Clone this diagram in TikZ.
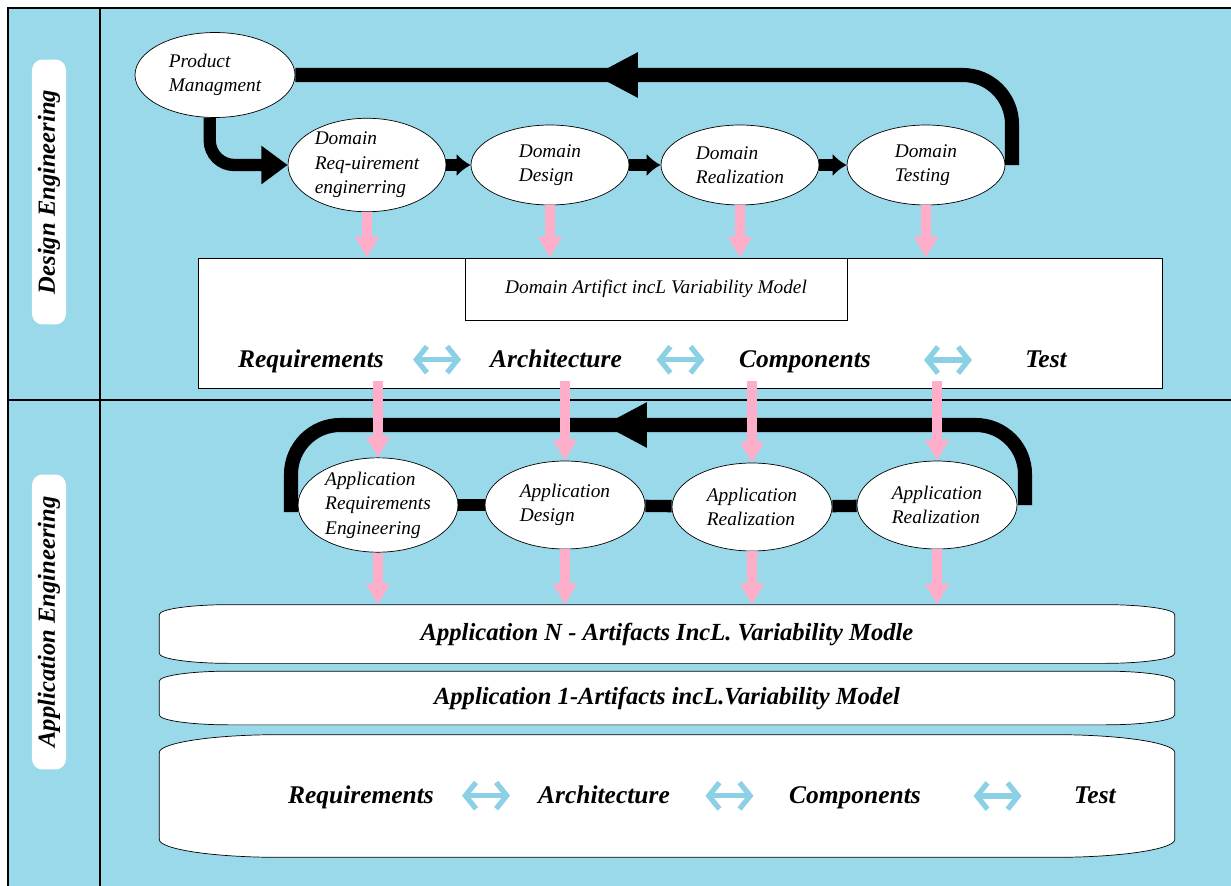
\documentclass[tikz,border=0pt]{standalone}
\usepackage{fontspec}
\setmainfont{Liberation Serif}
\usetikzlibrary{shapes.geometric,arrows.meta,decorations.markings,calc}

\definecolor{laneblue}{RGB}{153,217,234}
\definecolor{flowpink}{RGB}{255,174,201}
\definecolor{linkblue}{RGB}{140,208,230}

\tikzset{
  phase/.style={ellipse, draw, fill=white, inner sep=0pt, minimum width=3.16cm,
    minimum height=1.6cm, align=left, font=\itshape\fontsize{11}{14}\selectfont},
  lanelabel/.style={fill=white, rounded corners=6pt, rotate=90, minimum height=0.58cm,
    font=\bfseries\itshape\fontsize{14}{16}\selectfont},
  rowtext/.style={anchor=base, font=\bfseries\itshape\fontsize{14.5}{17}\selectfont},
  captext/.style={font=\bfseries\itshape\fontsize{14}{17}\selectfont},
  capnode/.style={inner sep=0pt, minimum width=20.3cm},
  pinkflow/.style={draw=flowpink, line width=5.5pt, -{Triangle[length=12pt,width=13pt]}},
  linkarr/.style={draw=linkblue, line width=3pt,
    {Straight Barb[length=6pt,width=15pt]}-{Straight Barb[length=6pt,width=15pt]}},
  stepflow/.style={line width=6.5pt, -{Latex[length=8pt,width=13pt]}},
  stepbar/.style={line width=7pt},
  fbloop/.style={line width=8pt, rounded corners=28pt, postaction={decorate},
    decoration={markings, mark=at position #1 with {\arrow{Triangle[length=25pt,width=24pt]}}}}
}

% capsule outline round a named node: node, corner x radius, corner y radius
\newcommand{\capsule}[3]{%
  \draw[fill=white] ($(#1.north west)+(0,#3)$) -- ($(#1.south west)+(0,-#3)$)
    arc[start angle=180, end angle=90, x radius=#2, y radius=#3]
    -- ($(#1.south east)+(-#2,0)$)
    arc[start angle=90, end angle=0, x radius=#2, y radius=#3]
    -- ($(#1.north east)+(0,#3)$)
    arc[start angle=0, end angle=-90, x radius=#2, y radius=#3]
    -- ($(#1.north west)+(#2,0)$)
    arc[start angle=-90, end angle=-180, x radius=#2, y radius=#3]
    -- cycle;
}

\begin{document}
\begin{tikzpicture}[x=0.02cm, y=-0.02cm]
\useasboundingbox (0,0) rectangle (1231,886);

% lanes
\fill[laneblue] (8,8) rectangle (1231,886);
\draw[line width=1pt] (8,886) -- (8,8) -- (1231,8);
\draw[line width=1pt] (100,8) -- (100,886);
\draw[line width=1pt] (8,400) -- (1231,400);

\node[lanelabel, minimum width=5.3cm] (lane1) at (49,192) {Design Engineering};
\node[lanelabel, minimum width=5.9cm] (lane2) at (49,622) {Application Engineering};

% domain engineering
\node[phase, minimum width=3.2cm, minimum height=1.7cm] (pm) at (215,75) {Product\\Managment};
\node[phase] (dreq) at (367,165) {Domain\\Req-uirement\\enginerring};
\node[phase] (ddes) at (550,165) {Domain\\Design};
\node[phase] (dreal) at (740,165) {Domain\\Realization};
\node[phase] (dtest) at (926,165) {Domain\\Testing};

\coordinate (dfb) at (1012,75);

\draw[stepflow] (dreq) -- (ddes);
\draw[stepflow] (ddes) -- (dreal);
\draw[stepflow] (dreal) -- (dtest);
\draw[line width=7pt, rounded corners=14pt, -{Triangle[length=15pt,width=21pt]}]
  ([xshift=-3pt]pm.south) |- (dreq.west);
\draw[fbloop=0.62] (dtest.east -| dfb) -- (dfb) -- (pm.east);

\node[draw, fill=white, minimum width=19.28cm, minimum height=2.6cm] (dbox) at (680,323) {};
\node[draw, fill=white, minimum width=7.64cm, minimum height=1.24cm,
  font=\itshape\fontsize{11}{13}\selectfont] (dart) at (656,289) {Domain Artifict incL Variability Model};

\node[rowtext] (rreq) at (311,367) {Requirements};
\node[rowtext] (rarch) at (556,367) {Architecture};
\node[rowtext] (rcomp) at (805,367) {Components};
\node[rowtext] (rtest) at (1046,367) {Test};
\draw[linkarr] ($(rreq.east)!.5!(rarch.west)$) +(-24,0) -- +(24,0);
\draw[linkarr] ($(rarch.east)!.5!(rcomp.west)$) +(-24,0) -- +(24,0);
\draw[linkarr] ($(rcomp.east)!.5!(rtest.west)$) +(-24,0) -- +(24,0);

\foreach \p in {dreq,ddes,dreal,dtest}
  \draw[pinkflow] (\p.south) -- (\p.south |- dbox.north);

% application engineering
\node[phase, minimum width=3.2cm, minimum height=1.76cm] (app1) at (378,505) {Application\\Requirements\\Engineering};
\node[phase, minimum width=3.2cm, minimum height=1.76cm] (app2) at (565,505) {Application\\Design};
\node[phase, minimum width=3.2cm, minimum height=1.76cm] (app3) at (752,507) {Application\\Realization};
\node[phase, minimum width=3.2cm, minimum height=1.76cm] (app4) at (937,505) {Application\\Realization};

\coordinate (afbR) at (1025,425);
\coordinate (afbL) at (291,425);

\draw[stepbar] (app1) -- (app2);
\draw[stepbar] (app2) -- (app3);
\draw[stepbar] (app3) -- (app4);
\draw[fbloop=0.56] (app4.east -| afbR) -- (afbR) -- (afbL) -- ([yshift=-4pt]app1.west -| afbL);

\foreach \p in {app1,app2,app3,app4}
  \draw[pinkflow] ([yshift=4pt]\p.north |- dbox.south) -- (\p.north);

\node[capnode, minimum height=1.16cm] (capN) at (667,634) {};
\node[capnode, minimum height=1.06cm] (cap1) at (667,698) {};
\node[capnode, minimum height=2.44cm] (capB) at (667,796) {};
\capsule{capN}{70}{10}
\capsule{cap1}{70}{10}
\capsule{capB}{120}{18}

\foreach \p in {app1,app2,app3,app4}
  \draw[pinkflow] (\p.south) -- (\p.south |- capN.north);

\node[captext] (artN) at (capN) {Application N - Artifacts IncL. Variability Modle};
\node[captext] (art1) at (cap1) {Application 1-Artifacts incL.Variability Model};

\node[rowtext] (breq) at (361,803) {Requirements};
\node[rowtext] (barch) at (604,803) {Architecture};
\node[rowtext] (bcomp) at (855,803) {Components};
\node[rowtext] (btest) at (1095,803) {Test};
\draw[linkarr] ($(breq.east)!.5!(barch.west)$) +(-24,0) -- +(24,0);
\draw[linkarr] ($(barch.east)!.5!(bcomp.west)$) +(-24,0) -- +(24,0);
\draw[linkarr] ($(bcomp.east)!.5!(btest.west)$) +(-24,0) -- +(24,0);
\end{tikzpicture}
\end{document}
